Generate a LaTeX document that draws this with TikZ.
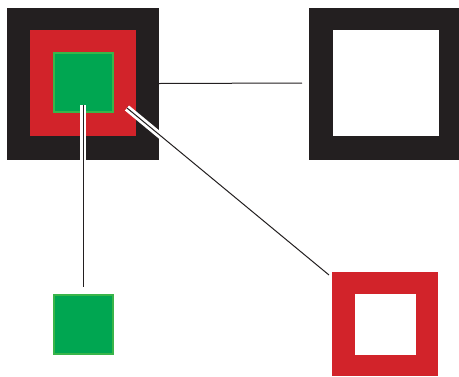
\documentclass[tikz,border=0pt]{standalone}
\definecolor{blk}{HTML}{231F20}
\definecolor{rd}{HTML}{D2232A}
\definecolor{gr}{HTML}{00A651}
\definecolor{grb}{HTML}{39B54A}
\tikzset{
  sq/.style={draw=none, inner sep=0pt, outer sep=0pt, minimum width=#1, minimum height=#1},
  halo/.style={draw=white, line width=6.5pt},
  conn/.style={draw=blk, line width=1pt},
}
\begin{document}
\begin{tikzpicture}[x=1pt,y=-1pt]
\useasboundingbox (0,0) rectangle (459,376);
% top-left composite
\node[sq=152, fill=blk] (outerA) at (83,83.5) {};
\node[sq=106, fill=rd] (redA) at (83,83) {};
\node[sq=59, fill=gr, draw=grb, line width=2pt] (greenA) at (83,82.5) {};
% top-right
\node[sq=152, fill=blk] (outerB) at (385,83.5) {};
\node[sq=106, fill=white] (holeB) at (386,83) {};
% bottom-left green
\node[sq=59, fill=gr, draw=grb, line width=2pt] (greenC) at (83,324.5) {};
% bottom-right red
\node[sq=104, fill=rd, minimum width=106] (redD) at (385,324) {};
\node[sq=61, fill=white] (holeD) at (385.5,324.5) {};
% connector endpoints
\coordinate (v1) at (83,105);
\coordinate (v2) at (83,287);
\coordinate (d1) at (127,108);
\coordinate (d2) at (329,275);
\coordinate (h2) at (302,83);
% connectors
\draw[halo] (v1) -- (v2);
\draw[conn] (v1) -- (v2);
\draw[halo] (d1) -- (d2);
\draw[conn] (d1) -- (d2);
\draw[conn] (outerA.east) -- (h2);
\end{tikzpicture}
\end{document}
